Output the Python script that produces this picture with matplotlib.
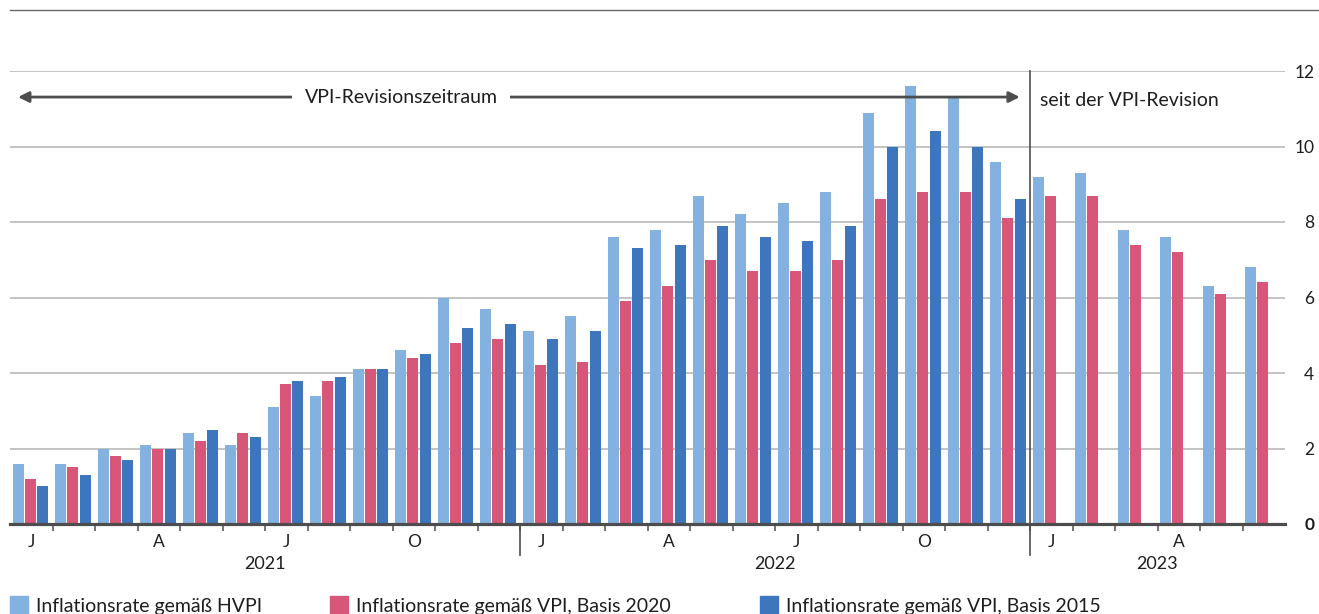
import numpy as np
import matplotlib.pyplot as plt
from matplotlib.patches import Rectangle
from matplotlib.lines import Line2D

plt.rcParams['font.family'] = ['Lato', 'DejaVu Sans']

# Inflationsraten in %, Jan 2021 - Jun 2023
hvpi = [1.6, 1.6, 2.0, 2.1, 2.4, 2.1, 3.1, 3.4, 4.1, 4.6, 6.0, 5.7,
        5.1, 5.5, 7.6, 7.8, 8.7, 8.2, 8.5, 8.8, 10.9, 11.6, 11.3, 9.6,
        9.2, 9.3, 7.8, 7.6, 6.3, 6.8]
vpi_2020 = [1.2, 1.5, 1.8, 2.0, 2.2, 2.4, 3.7, 3.8, 4.1, 4.4, 4.8, 4.9,
            4.2, 4.3, 5.9, 6.3, 7.0, 6.7, 6.7, 7.0, 8.6, 8.8, 8.8, 8.1,
            8.7, 8.7, 7.4, 7.2, 6.1, 6.4]
vpi_2015 = [1.0, 1.3, 1.7, 2.0, 2.5, 2.3, 3.8, 3.9, 4.1, 4.5, 5.2, 5.3,
            4.9, 5.1, 7.3, 7.4, 7.9, 7.6, 7.5, 7.9, 10.0, 10.4, 10.0, 8.6,
            np.nan, np.nan, np.nan, np.nan, np.nan, np.nan]
month_labels = ['J', '', '', 'A', '', '', 'J', '', '', 'O', '', ''] * 2 + ['J', '', '', 'A', '', '']
years = ['2021', '2022', '2023']
series_names = ['Inflationsrate gemäß HVPI', 'Inflationsrate gemäß VPI, Basis 2020',
                'Inflationsrate gemäß VPI, Basis 2015']

c_hvpi = '#83b2e0'
c_2020 = '#d85677'
c_2015 = '#3d76bd'
dark = '#4d4d4d'
txt = '#1e1e1e'

W, H = 1319, 614
fig = plt.figure(figsize=(W / 100, H / 100), dpi=100)
ax = fig.add_axes([10 / W, 90 / H, 1275 / W, 453 / H])

x = np.arange(len(hvpi))
bw = 0.26
ax.bar(x + 0.19, hvpi, bw, color=c_hvpi, zorder=3)
ax.bar(x + 0.48, vpi_2020, bw, color=c_2020, zorder=3)
ax.bar(x + 0.77, vpi_2015, bw, color=c_2015, zorder=3)

ax.set_xlim(0, 30)
ax.set_ylim(0, 12)

for s in ['top', 'left', 'right']:
    ax.spines[s].set_visible(False)
ax.spines['bottom'].set_color(dark)
ax.spines['bottom'].set_linewidth(2.3)
ax.spines['bottom'].set_zorder(5)

ax.set_yticks(range(0, 13, 2))
ax.yaxis.tick_right()
ax.yaxis.grid(True, color='#b3b3b3', lw=1.1)
ax.set_axisbelow(True)
ax.tick_params(axis='y', length=0, pad=21, labelsize=12.5, labelcolor=txt)
for lab in ax.get_yticklabels():
    lab.set_ha('right')
ax.get_yticklabels()[0].set_fontweight('bold')

ax.set_xticks(x + 0.5)
ax.set_xticklabels(month_labels)
ax.set_xticks(np.arange(1, 30), minor=True)
ax.tick_params(axis='x', which='major', length=0, pad=7, labelsize=12.5, labelcolor=txt)
ax.tick_params(axis='x', which='minor', length=5, width=1.1, color=dark)

for i, yr in enumerate(years):
    n = 6 if yr == '2023' else 12
    ax.text(i * 12 + n / 2, -1.05, yr, ha='center', va='center', fontsize=13, color=txt)

# Jahrestrenner und Revisionslinie
ax.plot([12, 12], [0, -0.82], color=dark, lw=1.2, clip_on=False)
ax.plot([24, 24], [12, -0.82], color=dark, lw=1.2, clip_on=False, zorder=6)

ax.annotate('', xy=(0.19, 11.31), xytext=(23.76, 11.31),
            arrowprops=dict(arrowstyle='<|-|>', color=dark, lw=2, mutation_scale=16,
                            shrinkA=0, shrinkB=0), zorder=6)
ax.text(9.2, 11.31, 'VPI-Revisionszeitraum', ha='center', va='center', fontsize=14,
        color=txt, zorder=7,
        bbox=dict(facecolor='white', edgecolor='none', pad=9))
ax.text(24.24, 11.23, 'seit der VPI-Revision', ha='left', va='center', fontsize=14,
        color=txt, zorder=7)

fig.add_artist(Line2D([10 / W, 1], [1 - 10 / H] * 2, color='#666666', lw=1))

for name, col, px in zip(series_names, [c_hvpi, c_2020, c_2015], [10, 330, 760]):
    fig.add_artist(Rectangle((px / W, 0), 18 / W, 18 / H, color=col, transform=fig.transFigure))
    fig.text((px + 26) / W, 2 / H, name, ha='left', va='baseline', fontsize=14, color=txt)

fig.savefig('out.png', dpi=100)
